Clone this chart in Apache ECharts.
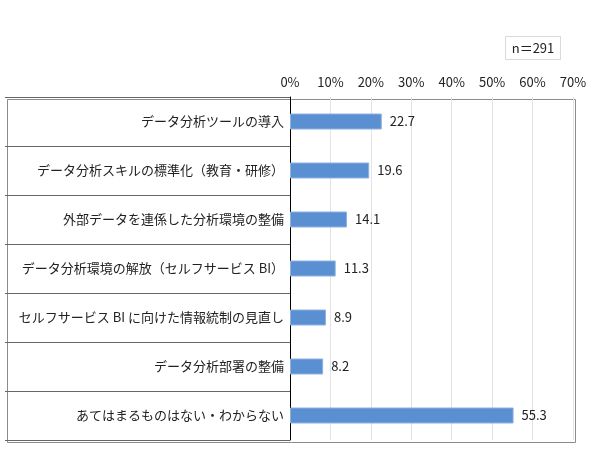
<!DOCTYPE html>
<html lang="ja">
<head>
  <meta charset="UTF-8">
  <title>データ分析の取り組み</title>
  <script src="https://cdn.jsdelivr.net/npm/echarts@6/dist/echarts.min.js"></script>
  <style>
    html, body { margin: 0; padding: 0; background: #fff; }
    #chart { width: 590px; height: 470px; }
  </style>
</head>
<body>
  <div id="chart"></div>
  <script>
    var categories = [
      'データ分析ツールの導入',
      'データ分析スキルの標準化（教育・研修）',
      '外部データを連係した分析環境の整備',
      'データ分析環境の解放（セルフサービス BI）',
      'セルフサービス BI に向けた情報統制の見直し',
      'データ分析部署の整備',
      'あてはまるものはない・わからない'
    ];
    var values = [22.7, 19.6, 14.1, 11.3, 8.9, 8.2, 55.3];
    var sampleNote = 'n＝291';

    var font = '"Noto Sans CJK JP", "Noto Sans", sans-serif';
    var chart = echarts.init(document.getElementById('chart'));

    chart.setOption({
      animation: false,
      textStyle: { fontFamily: font },
      grid: { left: 290, right: 17, top: 97, bottom: 30 },
      graphic: [
        // outer frame of the label table + plot area
        {
          type: 'rect', left: 5, top: 97, z: 0,
          shape: { width: 568, height: 343 },
          style: { fill: 'none', stroke: '#8c8c8c', lineWidth: 1 }
        },
        // sample size box
        {
          type: 'rect', left: 505, top: 36,
          shape: { width: 55, height: 23 },
          style: { fill: '#fff', stroke: '#d9d9d9', lineWidth: 1 },
          textContent: {
            style: { text: sampleNote, fontSize: 13, fill: '#222', fontFamily: font }
          },
          textConfig: { position: 'inside' }
        }
      ],
      xAxis: {
        type: 'value',
        position: 'top',
        min: 0,
        max: 70,
        interval: 10,
        axisLine: { show: false },
        axisTick: { show: false },
        axisLabel: { formatter: '{value}%', fontSize: 13, color: '#222', margin: 8 },
        splitLine: { lineStyle: { color: '#e3e3e3' } }
      },
      yAxis: {
        type: 'category',
        data: categories,
        inverse: true,
        axisLine: { lineStyle: { color: '#000', width: 1 } },
        axisTick: { show: true, length: 285, lineStyle: { color: '#666' } },
        axisLabel: { fontSize: 13, color: '#222', margin: 6 }
      },
      series: [{
        type: 'bar',
        data: values,
        barWidth: 16,
        itemStyle: { color: '#5a8fd2', borderColor: '#8db2e0', borderWidth: 1 },
        label: {
          show: true,
          position: 'right',
          distance: 8,
          fontSize: 13,
          color: '#222',
          formatter: function (p) { return p.value.toFixed(1); }
        }
      }]
    });
  </script>
</body>
</html>
